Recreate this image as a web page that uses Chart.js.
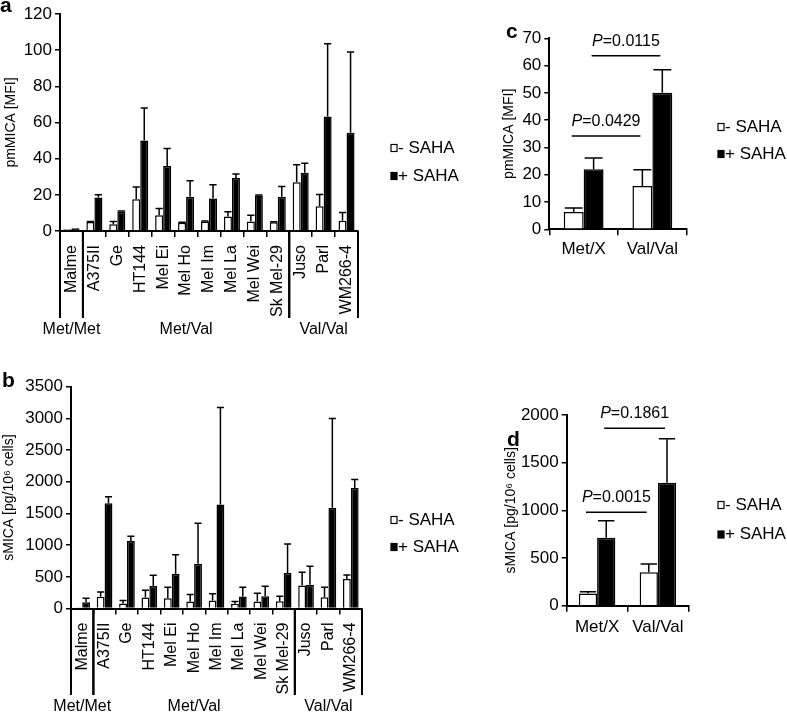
<!DOCTYPE html>
<html>
<head>
<meta charset="utf-8">
<script src="https://cdn.jsdelivr.net/npm/chart.js@4.4.1/dist/chart.umd.min.js"></script>
<style>
  body { margin: 0; background: #fff; }
  #wrap { position: relative; width: 787px; height: 713px; font-family: 'Liberation Sans', Arial, sans-serif; }
  canvas { position: absolute; }
  .tag { position: absolute; font-weight: bold; font-size: 21px; line-height: 1; color: #000; }
</style>
</head>
<body>
<div id="wrap">
  <canvas id="chartA" width="480" height="345" style="left:0;top:0"></canvas>
  <canvas id="chartB" width="480" height="353" style="left:0;top:360px"></canvas>
  <canvas id="chartC" width="287" height="280" style="left:500px;top:0"></canvas>
  <canvas id="chartD" width="287" height="333" style="left:500px;top:380px"></canvas>
  <div class="tag" style="left:0;top:-6px">a</div>
  <div class="tag" style="left:2px;top:369px">b</div>
  <div class="tag" style="left:506px;top:20px">c</div>
  <div class="tag" style="left:507px;top:428px">d</div>
</div>
<script>
// cell lines and genotype groups (panels a and b)
var cellLines = ['Malme', 'A375II', 'Ge', 'HT144', 'Mel Ei', 'Mel Ho', 'Mel Im', 'Mel La', 'Mel Wei', 'Sk Mel-29', 'Juso', 'Parl', 'WM266-4'];
var groupNames = ['Met/Met', 'Met/Val', 'Val/Val'];
var groupFirst = [0, 1, 10];
var groupLast = [0, 9, 12];

// a: pmMICA [MFI], mean and SD
var pmMinus = [1, 5, 3.7, 17.6, 8.7, 4.6, 5.2, 8, 5.2, 4.8, 27, 13.7, 5.7];
var pmMinusSd = [0, 0.3, 1.5, 6.8, 3.7, 0.3, 0.3, 2.6, 3.5, 0.3, 9.7, 6.5, 4.5];
var pmPlus = [1.5, 18.5, 10.7, 50, 36, 18.9, 18, 29.3, 19.6, 18.9, 32.2, 63.3, 54.3];
var pmPlusSd = [0, 1.5, 0.3, 18, 9.6, 8.9, 7.6, 2.2, 0.3, 5.7, 5.2, 40.3, 44.7];

// b: sMICA [pg/10^6 cells]
var sMinus = [15, 184, 79, 173, 163, 110, 126, 73, 110, 115, 362, 178, 467];
var sMinusSd = [0, 78, 46, 116, 173, 110, 105, 37, 131, 79, 210, 158, 63];
var sPlus = [100, 1660, 1065, 357, 548, 708, 1640, 189, 194, 562, 373, 1590, 1900];
var sPlusSd = [60, 104, 74, 168, 302, 636, 1530, 147, 158, 456, 294, 1407, 136];

// c and d: pooled by genotype
var genotypes = ['Met/X', 'Val/Val'];
var poolPmMinus = [6.3, 15.9];
var poolPmMinusSd = [1.5, 5.9];
var poolPmPlus = [22, 50];
var poolPmPlusSd = [4.1, 8.5];
var poolSMinus = [129, 350];
var poolSMinusSd = [18, 87];
var poolSPlus = [713, 1290];
var poolSPlusSd = [179, 460];

var seriesLabels = ['- SAHA', '+ SAHA'];

var FONT = "'Liberation Sans', Arial, sans-serif";

// draws error bars, genotype brackets, legend and P values
var extras = {
    id: 'extras',
    afterDatasetsDraw: function (chart, args, o) {
        var ctx = chart.ctx;
        var xs = chart.scales.x, ys = chart.scales.y, area = chart.chartArea;
        ctx.save();
        ctx.strokeStyle = '#000';
        ctx.fillStyle = '#000';
        ctx.lineWidth = 1.5;

        // error bars (upper only)
        chart.data.datasets.forEach(function (ds, i) {
            chart.getDatasetMeta(i).data.forEach(function (bar, j) {
                var sd = ds.errors[j];
                if (!sd) return;
                var yTop = ys.getPixelForValue(ds.data[j] + sd);
                var half = bar.width * 0.45;
                ctx.beginPath();
                ctx.moveTo(bar.x, bar.y);
                ctx.lineTo(bar.x, yTop);
                ctx.moveTo(bar.x - half, yTop);
                ctx.lineTo(bar.x + half, yTop);
                ctx.stroke();
            });
        });

        // genotype groups under the axis
        if (o.groups) {
            var step = xs.getPixelForValue(1) - xs.getPixelForValue(0);
            ctx.lineWidth = 2;
            ctx.font = '16px ' + FONT;
            ctx.textAlign = 'center';
            ctx.textBaseline = 'middle';
            groupNames.forEach(function (name, g) {
                var left = xs.getPixelForValue(groupFirst[g]) - step / 2;
                var right = xs.getPixelForValue(groupLast[g]) + step / 2;
                ctx.beginPath();
                ctx.moveTo(left, area.bottom);
                ctx.lineTo(left, area.bottom + o.groups.lineLength);
                ctx.moveTo(right, area.bottom);
                ctx.lineTo(right, area.bottom + o.groups.lineLength);
                ctx.stroke();
                ctx.fillText(name, (left + right) / 2, area.bottom + o.groups.labelOffset);
            });
        }

        // legend
        if (o.legend) {
            ctx.font = '17px ' + FONT;
            ctx.textAlign = 'left';
            ctx.textBaseline = 'middle';
            ctx.lineWidth = 1.2;
            chart.data.datasets.forEach(function (ds, i) {
                var y = o.legend.ys[i];
                ctx.fillStyle = ds.backgroundColor;
                ctx.fillRect(o.legend.x, y - 3.5, 6, 7);
                ctx.strokeRect(o.legend.x, y - 3.5, 6, 7);
                ctx.fillStyle = '#000';
                ctx.fillText(ds.label, o.legend.x + 7, y);
            });
        }

        // P value brackets
        if (o.pvals) {
            ctx.lineWidth = 1.5;
            ctx.textBaseline = 'alphabetic';
            o.pvals.forEach(function (p) {
                var bars = chart.getDatasetMeta(p.dataset).data;
                var x1 = bars[0].x - 2, x2 = bars[1].x - 2;
                var y = ys.getPixelForValue(p.level);
                ctx.beginPath();
                ctx.moveTo(x1, y);
                ctx.lineTo(x2, y);
                ctx.stroke();
                ctx.font = 'italic 16px ' + FONT;
                var w1 = ctx.measureText('P').width;
                ctx.font = '16px ' + FONT;
                var rest = '=' + p.text;
                var w2 = ctx.measureText(rest).width;
                var start = (x1 + x2) / 2 - (w1 + w2) / 2;
                ctx.textAlign = 'left';
                ctx.font = 'italic 16px ' + FONT;
                ctx.fillText('P', start, y - 10);
                ctx.font = '16px ' + FONT;
                ctx.fillText(rest, start + w1, y - 10);
            });
        }
        ctx.restore();
    }
};

function datasets(minus, minusSd, plus, plusSd, pct) {
    return [
        { label: seriesLabels[0], data: minus, errors: minusSd, backgroundColor: '#fff', borderColor: '#000',
          borderWidth: 1.5, categoryPercentage: pct, barPercentage: 1 },
        { label: seriesLabels[1], data: plus, errors: plusSd, backgroundColor: '#000', borderColor: '#000',
          borderWidth: 1.5, categoryPercentage: pct, barPercentage: 1 }
    ];
}

function scales(o) {
    return {
        x: {
            offset: true,
            grid: { offset: true, drawOnChartArea: false, color: '#000', lineWidth: 1.5, tickLength: 6 },
            border: { color: '#000', width: 2 },
            ticks: { color: '#000', font: { family: FONT, size: o.rot ? 16 : 17 }, minRotation: o.rot, maxRotation: o.rot,
                     padding: o.xPad, autoSkip: false },
            afterFit: function (s) { s.height = o.xHeight; }
        },
        y: {
            min: 0, max: o.max,
            grid: { drawOnChartArea: false, color: '#000', lineWidth: 1.5, tickLength: 5 },
            border: { color: '#000', width: 2 },
            ticks: { stepSize: o.step, color: '#000', font: { family: FONT, size: 17 }, padding: 3,
                     callback: function (v) { return String(v); } },
            title: { display: true, text: o.title, color: '#000', font: { family: FONT, size: 14 },
                     padding: { top: o.titlePad, bottom: 0 } },
            afterFit: function (s) { s.width = o.yWidth; }
        }
    };
}

function makeChart(id, labels, ds, sc, padding, extra) {
    return new Chart(document.getElementById(id).getContext('2d'), {
        type: 'bar',
        data: { labels: labels, datasets: ds },
        options: {
            responsive: false,
            animation: false,
            layout: { padding: padding },
            plugins: { legend: { display: false }, tooltip: { enabled: false }, extras: extra },
            scales: sc
        },
        plugins: [extras]
    });
}

// a
makeChart('chartA', cellLines, datasets(pmMinus, pmMinusSd, pmPlus, pmPlusSd, 0.7),
    scales({ rot: 90, xPad: 8, xHeight: 114, max: 120, step: 20, title: 'pmMICA [MFI]', titlePad: 3, yWidth: 60 }),
    { left: 0, top: 14, right: 122, bottom: 0 },
    { groups: { lineLength: 87, labelOffset: 99 }, legend: { x: 391, ys: [148, 176] } });

// b
makeChart('chartB', cellLines, datasets(sMinus, sMinusSd, sPlus, sPlusSd, 0.7),
    scales({ rot: 90, xPad: 8, xHeight: 104.5, max: 3500, step: 500, title: 'sMICA [pg/10\u2076 cells]', titlePad: 1, yWidth: 71 }),
    { left: 0, top: 26.7, right: 118, bottom: 0 },
    { groups: { lineLength: 86.5, labelOffset: 98.5 }, legend: { x: 391, ys: [160, 187] } });

// c
makeChart('chartC', genotypes, datasets(poolPmMinus, poolPmMinusSd, poolPmPlus, poolPmPlusSd, 0.58),
    scales({ rot: 0, xPad: 4, xHeight: 50.7, max: 70, step: 10, title: 'pmMICA [MFI]', titlePad: 1, yWidth: 49.3 }),
    { left: 0, top: 38.3, right: 100.3, bottom: 0 },
    { legend: { x: 218, ys: [127, 154] },
      pvals: [{ text: '0.0429', dataset: 0, level: 34.2 }, { text: '0.0115', dataset: 1, level: 63.6 }] });

// d
makeChart('chartD', genotypes, datasets(poolSMinus, poolSMinusSd, poolSPlus, poolSPlusSd, 0.6),
    scales({ rot: 0, xPad: 5, xHeight: 107.3, max: 2000, step: 500, title: 'sMICA [pg/10\u2076 cells]', titlePad: 3, yWidth: 66.7 }),
    { left: 0, top: 35, right: 98.7, bottom: 0 },
    { legend: { x: 218, ys: [125, 154.5] },
      pvals: [{ text: '0.0015', dataset: 0, level: 980 }, { text: '0.1861', dataset: 1, level: 1860 }] });
</script>
</body>
</html>
